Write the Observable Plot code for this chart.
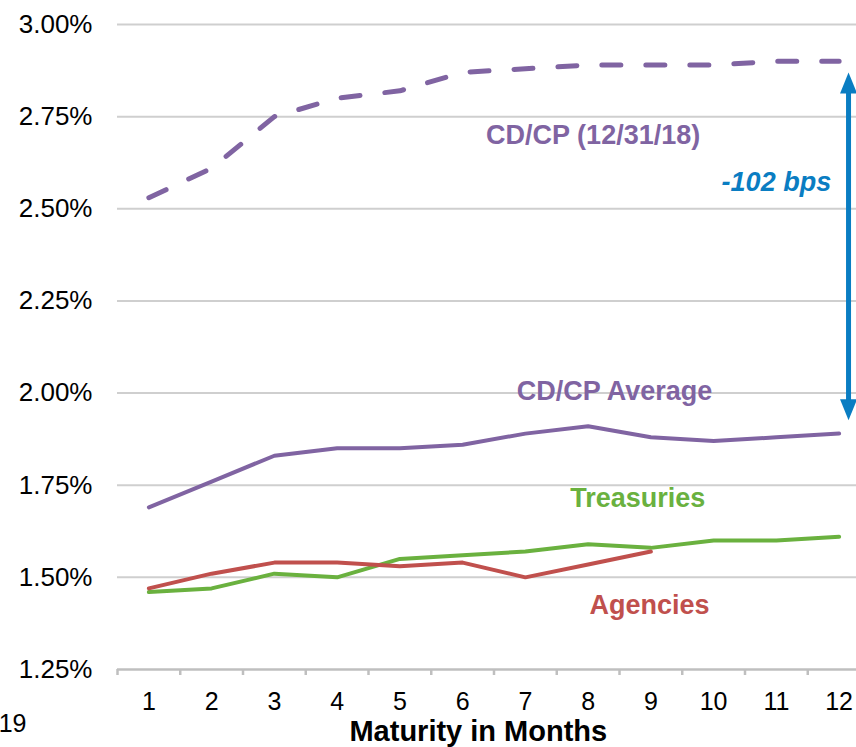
<!DOCTYPE html>
<html>
<head>
<meta charset="utf-8">
<script src="https://cdn.jsdelivr.net/npm/d3@7"></script>
<script src="https://cdn.jsdelivr.net/npm/@observablehq/plot@0.6"></script>
<style>
  html, body { margin: 0; padding: 0; background: #fff; overflow: hidden; }
  #chart svg { display: block; overflow: hidden; }
</style>
</head>
<body>
<div id="chart"></div>
<script>
// ---- data ----
const months = [1, 2, 3, 4, 5, 6, 7, 8, 9, 10, 11, 12];
const cdcp123118 = [2.53, 2.61, 2.75, 2.80, 2.82, 2.87, 2.88, 2.89, 2.89, 2.89, 2.90, 2.90];
const cdcpAverage = [1.69, 1.76, 1.83, 1.85, 1.85, 1.86, 1.89, 1.91, 1.88, 1.87, 1.88, 1.89];
const treasuries = [1.46, 1.47, 1.51, 1.50, 1.55, 1.56, 1.57, 1.59, 1.58, 1.60, 1.60, 1.61];
const agencies = [1.47, 1.51, 1.54, 1.54, 1.53, 1.54, 1.50, 1.535, 1.57];
const yTicks = [1.25, 1.50, 1.75, 2.00, 2.25, 2.50, 2.75, 3.00];

const seriesLabels = ["CD/CP (12/31/18)", "CD/CP Average", "Treasuries", "Agencies"];
const seriesLabelX = [8.08, 8.42, 8.79, 8.98];
const seriesLabelY = [2.70, 2.005, 1.715, 1.424];
const seriesColors = ["#8064A2", "#8064A2", "#6AB13F", "#C0504D"];

const spreadText = "-102 bps";
const spreadLabelX = 11.0, spreadLabelY = 2.572;
const arrowX = 12.15, arrowTop = 2.87, arrowBottom = 1.926;

const footText = "19";
const xTitle = "Maturity in Months";

// ---- helpers ----
const toRows = (vals) => vals.map((v, i) => ({x: months[i], y: v}));
const boundaries = [...months.map(m => m - 0.5), months[months.length - 1] + 0.5];
const arrowHead = {
  draw(ctx) {
    ctx.moveTo(0, 0);
    ctx.lineTo(-8.5, 21);
    ctx.lineTo(8.5, 21);
    ctx.closePath();
  }
};
const BLUE = "#0A7DC2";
const FONT = "Liberation Sans, Arial, Helvetica, sans-serif";

const chart = Plot.plot({
  width: 856,
  height: 747,
  marginLeft: 117,
  marginRight: 0,
  marginTop: 24,
  marginBottom: 78,
  style: {fontFamily: FONT, background: "#fff", overflow: "hidden"},
  x: {domain: [0.5, 12.5], range: [117, 870], label: null},
  y: {domain: [1.25, 3.0], label: null},
  marks: [
    Plot.ruleY(yTicks.filter(t => t > 1.25), {stroke: "#CFCFCF", strokeWidth: 2}),
    Plot.ruleY([1.25], {stroke: "#BFBFBF", strokeWidth: 2.5, x1: 0.5, x2: 12.5}),
    Plot.axisX(boundaries, {tickSize: 6, text: null, stroke: "#BFBFBF", strokeWidth: 2.5, label: null}),
    Plot.axisX(months, {tickSize: 0, tickPadding: 23, fontSize: 25, fill: "#000", label: null}),
    Plot.axisY(yTicks, {tickSize: 0, tickPadding: 25, fontSize: 26, fill: "#000", tickFormat: d => d.toFixed(2) + "%", label: null}),

    Plot.line(toRows(cdcp123118), {x: "x", y: "y", stroke: "#8064A2", strokeWidth: 5, strokeDasharray: "19,25", strokeLinecap: "round"}),
    Plot.line(toRows(cdcpAverage), {x: "x", y: "y", stroke: "#8064A2", strokeWidth: 4}),
    Plot.line(toRows(treasuries), {x: "x", y: "y", stroke: "#6AB13F", strokeWidth: 4}),
    Plot.line(toRows(agencies), {x: "x", y: "y", stroke: "#C0504D", strokeWidth: 4}),

    Plot.text(seriesLabels, {x: (d, i) => seriesLabelX[i], y: (d, i) => seriesLabelY[i], text: d => d,
      fill: (d, i) => seriesColors[i], fontSize: 27, fontWeight: "bold", textAnchor: "middle"}),

    Plot.ruleX([arrowX], {y1: arrowTop - 0.05, y2: arrowBottom + 0.05, stroke: BLUE, strokeWidth: 5}),
    Plot.dot([arrowTop], {x: arrowX, y: d => d, symbol: arrowHead, fill: BLUE, stroke: "none"}),
    Plot.dot([arrowBottom], {x: arrowX, y: d => d, symbol: arrowHead, fill: BLUE, stroke: "none", rotate: 180}),
    Plot.text([spreadText], {x: spreadLabelX, y: spreadLabelY, text: d => d, fill: BLUE, fontSize: 27,
      fontWeight: "bold", fontStyle: "italic", textAnchor: "middle"}),

    Plot.text([xTitle], {x: 6.25, y: 1.082, text: d => d, fill: "#000", fontSize: 29, fontWeight: "bold", textAnchor: "middle"}),
    Plot.text([footText], {x: -0.95, y: 1.102, text: d => d, fill: "#000", fontSize: 25, textAnchor: "end"})
  ]
});
document.getElementById("chart").appendChild(chart);
</script>
</body>
</html>
